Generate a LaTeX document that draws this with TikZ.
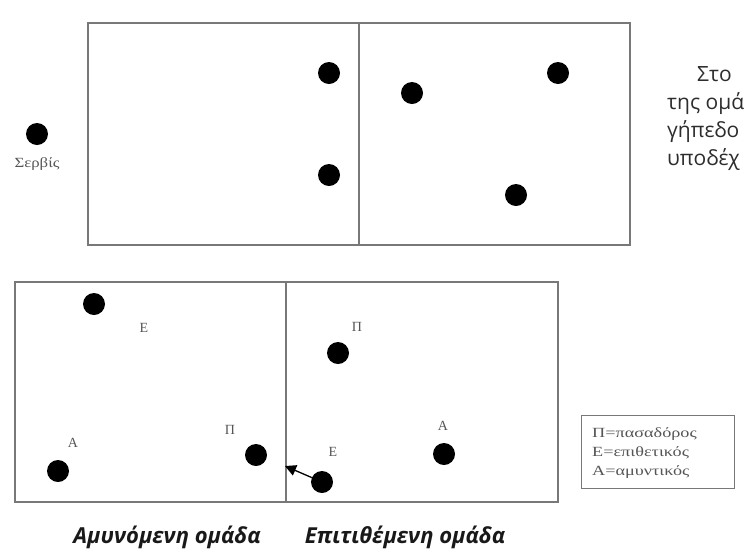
\documentclass[tikz,border=0pt]{standalone}
\usepackage{fontspec}
\setmainfont{Open Sans}
\newfontfamily\serifgr{Liberation Serif}
\usetikzlibrary{arrows.meta}
\definecolor{framegray}{RGB}{120,120,120}
\definecolor{labgray}{RGB}{85,85,85}
\definecolor{txtgray}{RGB}{45,45,45}
\tikzset{
  player/.style={circle,fill=black,inner sep=0pt,minimum size=22pt},
  field/.style={draw=framegray,line width=1.3pt},
  plab/.style={font=\serifgr\fontsize{14}{14}\selectfont,text=labgray,inner sep=0pt},
  sidetext/.style={font=\fontsize{21}{28}\selectfont,text=txtgray,anchor=base west,inner sep=0pt},
  caption/.style={font=\bfseries\itshape\fontsize{22}{26}\selectfont,text=black!90,inner sep=0pt,anchor=base}
}
\begin{document}
\begin{tikzpicture}[x=1pt,y=-1pt]
\useasboundingbox (0,0) rectangle (744,558);
% top field
\draw[field] (88,23) rectangle (630,245);
\draw[field] (359,23) -- (359,245);
\node[player] (t1) at (329,73) {};
\node[player] (t2) at (329,175) {};
\node[player] (t3) at (412,93) {};
\node[player] (t4) at (558,73) {};
\node[player] (t5) at (516,195) {};
\node[player] (srv) at (37,134) {};
\node[plab,anchor=north] (srvlab) at (37,157) {\scalebox{1.2}[1]{Σερβίς}};
% bottom field
\draw[field] (15,282) rectangle (558,502);
\draw[field] (286,282) -- (286,502);
\node[player] (dE) at (94,304) {};
\node[player] (dA) at (58,471) {};
\node[player] (dP) at (256,455) {};
\node[plab] (ldE) at (144,328) {Ε};
\node[plab] (ldA) at (73,443) {Α};
\node[plab] (ldP) at (230,430) {Π};
\node[player] (aP) at (338,353) {};
\node[player] (aA) at (444,454) {};
\node[player] (aE) at (322,482) {};
\node[plab] (laP) at (357,327) {Π};
\node[plab] (laA) at (443,426) {Α};
\node[plab] (laE) at (333,452) {Ε};
\coordinate (ball) at (285,466);
\draw[line width=1.3pt,-{Triangle[length=11pt,width=11pt]}] (aE) -- (ball);
% legend
\node[draw=framegray,line width=1.2pt,minimum width=153pt,minimum height=73pt,anchor=north west,inner sep=0pt] (leg) at (581,415) {};
\node[plab,anchor=west,align=left,font=\serifgr\fontsize{14}{19}\selectfont] (legtext) at (592,453) {\scalebox{1.3}[1]{Π=πασαδόρος}\\\scalebox{1.3}[1]{Ε=επιθετικός}\\\scalebox{1.3}[1]{Α=αμυντικός}};
% captions
\node[caption] (cap1) at (167,543) {Αμυνόμενη ομάδα};
\node[caption] (cap2) at (405,543) {Επιτιθέμενη ομάδα};
% side text (cut off at the right edge in the reference)
\node[sidetext] (s1) at (697,81) {Στο};
\node[sidetext] (s2) at (667,109) {της ομά};
\node[sidetext] (s3) at (667,137) {γήπεδο};
\node[sidetext] (s4) at (667,165) {υποδέχ};
\end{tikzpicture}
\end{document}
